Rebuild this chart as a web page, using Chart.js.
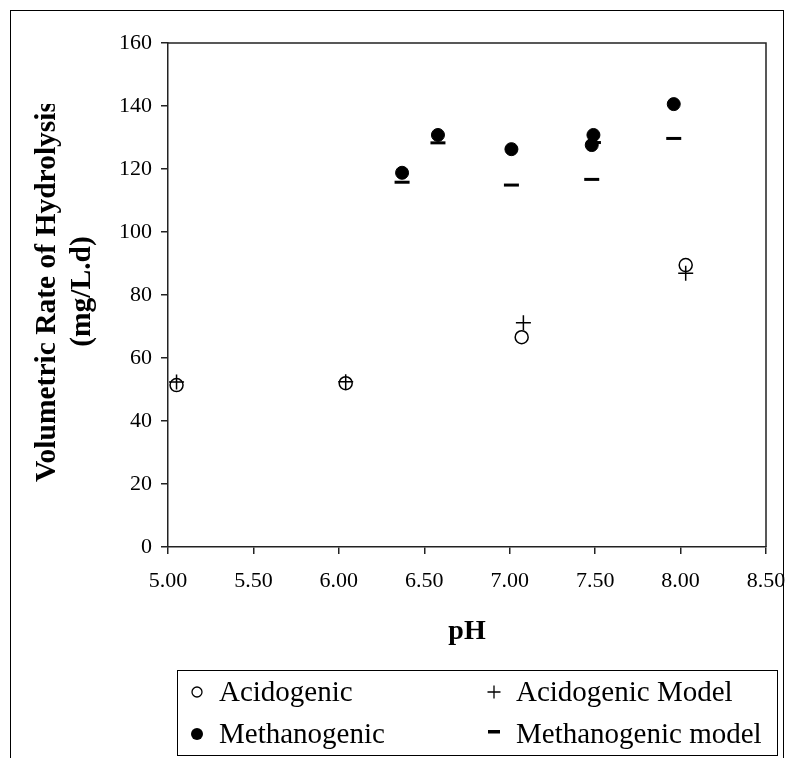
<!DOCTYPE html>
<html>
<head>
<meta charset="utf-8">
<script src="https://cdn.jsdelivr.net/npm/chart.js"></script>
<style>
  html, body { margin: 0; padding: 0; background: #fff; }
  #wrap { width: 790px; height: 758px; }
</style>
</head>
<body>
<div id="wrap"><canvas id="chart" width="790" height="758"></canvas></div>
<script>
// values
const acidoPH = [5.05, 6.04, 7.07, 8.03];
const acidoRate = [51.4, 52.0, 66.6, 89.5];
const acidoModelPH = [5.05, 6.04, 7.08, 8.03];
const acidoModelRate = [52.4, 52.5, 71.2, 86.9];
const methPH = [6.37, 6.58, 7.01, 7.48, 7.49, 7.96];
const methRate = [118.8, 130.8, 126.3, 127.6, 130.8, 140.6];
const methModelPH = [6.37, 6.58, 7.01, 7.48, 7.49, 7.96];
const methModelRate = [115.8, 128.3, 114.9, 116.7, 128.4, 129.7];

const seriesLabels = ['Acidogenic', 'Acidogenic Model', 'Methanogenic', 'Methanogenic model'];

// axis ranges / ticks
const xMin = 5.0, xMax = 8.5, xStep = 0.5;
const yMin = 0, yMax = 160, yStep = 20;
const xTitle = 'pH';
const yTitleLines = ['Volumetric Rate of Hydrolysis', '(mg/L.d)'];

const serif = '"Liberation Serif", "Times New Roman", serif';

function pairs(xs, ys) {
    return xs.map((x, i) => ({ x: x, y: ys[i] }));
}

// draws the plot box, outer frame, rotated y title and the 2x2 legend
const extras = {
    id: 'extras',
    afterDraw(chart) {
        const ctx = chart.ctx;
        const a = chart.chartArea;
        ctx.save();

        // top + right edge of plot area
        ctx.strokeStyle = '#222';
        ctx.lineWidth = 1.5;
        ctx.beginPath();
        ctx.moveTo(a.left, a.top);
        ctx.lineTo(a.right, a.top);
        ctx.lineTo(a.right, a.bottom);
        ctx.stroke();

        // outer frame
        ctx.strokeStyle = '#000';
        ctx.lineWidth = 1;
        ctx.strokeRect(10.5, 10.5, 773, 800);

        // y title, long line is cut off at the top like the original
        ctx.save();
        ctx.beginPath();
        ctx.rect(0, 104, 160, 600);
        ctx.clip();
        ctx.fillStyle = '#000';
        ctx.font = 'bold 29.5px ' + serif;
        ctx.textAlign = 'center';
        ctx.textBaseline = 'middle';
        const len = ctx.measureText(yTitleLines[0]).width;
        const cy = 482 - len / 2;
        const xs = [47, 82];
        yTitleLines.forEach((t, i) => {
            ctx.save();
            ctx.translate(xs[i], cy);
            ctx.rotate(-Math.PI / 2);
            ctx.fillText(t, 0, 0);
            ctx.restore();
        });
        ctx.restore();

        // legend box
        const box = { left: 177, top: 670, right: 777, bottom: 755 };
        ctx.strokeStyle = '#000';
        ctx.lineWidth = 1;
        ctx.strokeRect(box.left + 0.5, box.top + 0.5, box.right - box.left, box.bottom - box.top);

        const colX = [197, 494];
        const rowY = [692, 734];
        ctx.font = '29px ' + serif;
        ctx.textAlign = 'left';
        ctx.textBaseline = 'middle';
        chart.data.datasets.forEach((ds, i) => {
            const mx = colX[i % 2];
            const my = rowY[Math.floor(i / 2)];
            ctx.fillStyle = '#000';
            ctx.strokeStyle = '#000';
            ctx.lineWidth = 1.3;
            if (ds.pointStyle === 'circle') {
                const filled = ds.pointBackgroundColor === '#000';
                ctx.beginPath();
                ctx.arc(mx, my, filled ? 6 : 5, 0, Math.PI * 2);
                if (filled) ctx.fill(); else ctx.stroke();
            } else if (ds.pointStyle === 'cross') {
                ctx.beginPath();
                ctx.moveTo(mx - 6.5, my); ctx.lineTo(mx + 6.5, my);
                ctx.moveTo(mx, my - 6.5); ctx.lineTo(mx, my + 6.5);
                ctx.stroke();
            } else if (ds.pointStyle === 'line') {
                ctx.fillRect(mx - 6, my - 4, 12, 3.5);
            }
            ctx.fillText(ds.label, mx + 22, my + 1);
        });

        ctx.restore();
    }
};

new Chart(document.getElementById('chart'), {
    type: 'scatter',
    data: {
        datasets: [
            {
                label: seriesLabels[0],
                data: pairs(acidoPH, acidoRate),
                pointStyle: 'circle',
                pointRadius: 6.5,
                pointBorderWidth: 1.5,
                pointBorderColor: '#000',
                pointBackgroundColor: 'rgba(0,0,0,0)'
            },
            {
                label: seriesLabels[1],
                data: pairs(acidoModelPH, acidoModelRate),
                pointStyle: 'cross',
                pointRadius: 7.5,
                pointBorderWidth: 1.5,
                pointBorderColor: '#000',
                pointBackgroundColor: '#000'
            },
            {
                label: seriesLabels[2],
                data: pairs(methPH, methRate),
                pointStyle: 'circle',
                pointRadius: 6.5,
                pointBorderWidth: 1,
                pointBorderColor: '#000',
                pointBackgroundColor: '#000'
            },
            {
                label: seriesLabels[3],
                data: pairs(methModelPH, methModelRate),
                pointStyle: 'line',
                pointRadius: 7.5,
                pointBorderWidth: 3,
                pointBorderColor: '#000',
                pointBackgroundColor: '#000'
            }
        ]
    },
    options: {
        responsive: false,
        devicePixelRatio: 1,
        animation: false,
        events: [],
        layout: {
            padding: { left: 0, top: 43, right: 24, bottom: 0 }
        },
        plugins: {
            legend: { display: false },
            tooltip: { enabled: false },
            title: { display: false }
        },
        scales: {
            x: {
                type: 'linear',
                min: xMin,
                max: xMax,
                afterFit: (s) => {
                    s.height = 211;
                    s.paddingLeft = 0;
                    s.paddingRight = 0;
                },
                ticks: {
                    stepSize: xStep,
                    padding: 14,
                    color: '#000',
                    font: { family: serif, size: 22 },
                    callback: (v) => Number(v).toFixed(2)
                },
                grid: {
                    drawOnChartArea: false,
                    drawTicks: true,
                    tickLength: 7,
                    color: '#222',
                    lineWidth: 1.5
                },
                border: { color: '#222', width: 1.5 },
                title: {
                    display: true,
                    text: xTitle,
                    color: '#000',
                    font: { family: serif, size: 28, weight: 'bold' },
                    padding: { top: 0, bottom: 109 }
                }
            },
            y: {
                type: 'linear',
                min: yMin,
                max: yMax,
                afterFit: (s) => {
                    s.width = 168;
                    s.paddingTop = 0;
                    s.paddingBottom = 0;
                },
                ticks: {
                    stepSize: yStep,
                    padding: 9,
                    color: '#000',
                    font: { family: serif, size: 22 }
                },
                grid: {
                    drawOnChartArea: false,
                    drawTicks: true,
                    tickLength: 7,
                    color: '#222',
                    lineWidth: 1.5
                },
                border: { color: '#222', width: 1.5 },
                title: { display: false }
            }
        }
    },
    plugins: [extras]
});
</script>
</body>
</html>
